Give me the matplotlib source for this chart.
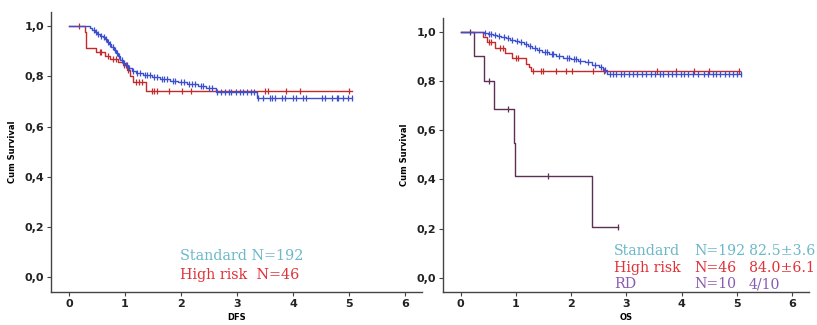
import numpy as np
import matplotlib.pyplot as plt
from matplotlib.ticker import FuncFormatter

# ---- DFS panel data ----
dfs_std_t = [0.38, 0.42, 0.46, 0.50, 0.55, 0.60, 0.64, 0.68, 0.72, 0.76, 0.80, 0.84, 0.88,
             0.92, 0.96, 1.00, 1.05, 1.12, 1.20, 1.32, 1.48, 1.62, 1.80, 1.95, 2.10, 2.30,
             2.45, 2.62, 3.35]
dfs_std_s = [0.993, 0.985, 0.978, 0.970, 0.962, 0.955, 0.948, 0.938, 0.927, 0.916, 0.905,
             0.893, 0.880, 0.866, 0.855, 0.845, 0.833, 0.822, 0.812, 0.805, 0.797, 0.790,
             0.782, 0.776, 0.768, 0.760, 0.752, 0.737, 0.712]
dfs_std_end = 5.05
dfs_std_cens = [0.44, 0.48, 0.52, 0.57, 0.62, 0.66, 0.70, 0.74, 0.78, 0.82, 0.86, 0.90,
                0.94, 0.98, 1.03, 1.08, 1.15, 1.22, 1.26, 1.35, 1.40, 1.44, 1.52, 1.58,
                1.66, 1.70, 1.75, 1.85, 1.90, 2.00, 2.05, 2.15, 2.20, 2.25, 2.35, 2.40,
                2.50, 2.55, 2.65, 2.72, 2.78, 2.85, 2.90, 2.98, 3.05, 3.10, 3.18, 3.25,
                3.30, 3.38, 3.47, 3.59, 3.62, 3.68, 3.80, 3.86, 4.00, 4.06, 4.18, 4.24,
                4.51, 4.57, 4.69, 4.78, 4.81, 4.90, 4.99, 5.05]

dfs_hr_t = [0.29, 0.31, 0.48, 0.65, 0.74, 0.88, 0.96, 1.03, 1.09, 1.15, 1.37]
dfs_hr_s = [0.978, 0.913, 0.895, 0.882, 0.870, 0.858, 0.845, 0.825, 0.800, 0.778, 0.742]
dfs_hr_end = 5.05
dfs_hr_cens = [0.18, 0.55, 0.58, 0.70, 0.78, 0.84, 0.99, 1.02, 1.05, 1.20, 1.25, 1.30,
               1.48, 1.52, 1.58, 1.78, 2.02, 2.18, 3.50, 3.56, 3.88, 4.13, 5.00]

# ---- OS panel data ----
os_std_t = [0.42, 0.50, 0.58, 0.66, 0.74, 0.82, 0.90, 0.98, 1.06, 1.14, 1.22, 1.30, 1.38,
            1.48, 1.60, 1.72, 1.85, 2.00, 2.12, 2.25, 2.38, 2.50, 2.58, 2.65]
os_std_s = [0.996, 0.992, 0.988, 0.984, 0.979, 0.974, 0.968, 0.962, 0.956, 0.950, 0.943,
            0.935, 0.925, 0.916, 0.908, 0.900, 0.894, 0.888, 0.882, 0.875, 0.866, 0.856,
            0.845, 0.826]
os_std_end = 5.07
os_std_cens = [0.45, 0.52, 0.55, 0.62, 0.70, 0.78, 0.86, 0.94, 1.02, 1.10, 1.18, 1.26,
               1.34, 1.42, 1.52, 1.56, 1.65, 1.68, 1.78, 1.92, 1.96, 2.05, 2.08, 2.16,
               2.30, 2.44, 2.54, 2.62, 2.70, 2.76, 2.82, 2.90, 2.96, 3.05, 3.12, 3.20,
               3.28, 3.36, 3.45, 3.52, 3.60, 3.66, 3.75, 3.82, 3.90, 3.98, 4.05, 4.12,
               4.20, 4.30, 4.40, 4.48, 4.56, 4.62, 4.70, 4.78, 4.86, 4.93, 5.00, 5.07]

os_hr_t = [0.40, 0.48, 0.63, 0.81, 0.93, 1.18, 1.23, 1.27]
os_hr_s = [0.978, 0.957, 0.935, 0.913, 0.891, 0.870, 0.855, 0.840]
os_hr_end = 5.05
os_hr_cens = [0.52, 0.56, 0.72, 0.76, 1.00, 1.04, 1.32, 1.45, 1.50, 1.72, 1.90, 2.02,
              2.40, 2.60, 3.55, 3.90, 4.22, 4.50, 5.03]

os_rd_t = [0.24, 0.42, 0.60, 0.97, 0.99, 2.37]
os_rd_s = [0.900, 0.800, 0.686, 0.549, 0.412, 0.206]
os_rd_end = 2.85
os_rd_cens = [0.18, 0.52, 0.85, 1.59, 2.85]

C_STD = '#3b4fcf'
C_HR = '#c42a2a'
C_RD = '#5e2f55'
T_STD = '#6ab8c9'
T_HR = '#e03038'
T_RD = '#8a5bb2'


def km(ax, t, s, end, cens, color, mcolor):
    x = [0] + list(t) + [end]
    y = [1.0] + list(s) + [s[-1]]
    ax.step(x, y, where='post', color=color, lw=1.0)
    idx = np.searchsorted(t, cens, side='right')
    ys = np.concatenate([[1.0], s])[idx]
    ax.plot(cens, ys, ls='none', marker='|', ms=5, mew=0.9, color=mcolor)


def style(ax, xlabel):
    ax.set_xlim(-0.32, 6.3)
    ax.set_ylim(-0.058, 1.056)
    ax.set_xticks(range(7))
    ax.set_yticks([0, 0.2, 0.4, 0.6, 0.8, 1.0])
    ax.yaxis.set_major_formatter(FuncFormatter(lambda v, p: f'{v:.1f}'.replace('.', ',')))
    for sp in ['top', 'right']:
        ax.spines[sp].set_visible(False)
    for sp in ['left', 'bottom']:
        ax.spines[sp].set_color('#444444')
        ax.spines[sp].set_linewidth(1.0)
    ax.tick_params(length=3, width=0.8, color='#444444', labelsize=8, labelcolor='#222222', pad=2)
    for lb in ax.get_xticklabels() + ax.get_yticklabels():
        lb.set_fontweight('bold')
    ax.set_ylabel('Cum Survival', fontsize=6, fontweight='bold', labelpad=5)
    ax.set_xlabel(xlabel, fontsize=6, fontweight='bold', labelpad=3)


fig = plt.figure(figsize=(8.17, 3.25), dpi=100, facecolor='white')
ax1 = fig.add_axes([0.0624, 0.1015, 0.454, 0.8615])
ax2 = fig.add_axes([0.542, 0.1015, 0.448, 0.8435])

# --- Left: DFS ---
km(ax1, dfs_hr_t, dfs_hr_s, dfs_hr_end, dfs_hr_cens, C_HR, C_HR)
km(ax1, dfs_std_t, dfs_std_s, dfs_std_end, dfs_std_cens, C_STD, C_STD)
style(ax1, 'DFS')
serif = 'DejaVu Serif'
ax1.text(1.98, 0.085, 'Standard N=192', color=T_STD, fontsize=10.4, family=serif, va='center')
ax1.text(1.98, 0.008, 'High risk  N=46', color=T_HR, fontsize=10.4, family=serif, va='center')

# --- Right: OS ---
km(ax2, os_rd_t, os_rd_s, os_rd_end, os_rd_cens, C_RD, C_RD)
km(ax2, os_hr_t, os_hr_s, os_hr_end, os_hr_cens, C_HR, C_HR)
km(ax2, os_std_t, os_std_s, os_std_end, os_std_cens, C_STD, C_STD)
style(ax2, 'OS')
rows = [('Standard', 'N=192', '82.5\u00b13.6', T_STD),
        ('High risk', 'N=46', '84.0\u00b16.1', T_HR),
        ('RD', 'N=10', '4/10', T_RD)]
for i, (a, b, c, col) in enumerate(rows):
    yy = 0.109 - i * 0.068
    ax2.text(2.78, yy, a, color=col, fontsize=10.2, family=serif, va='center', clip_on=False)
    ax2.text(4.22, yy, b, color=col, fontsize=10.2, family=serif, va='center', clip_on=False)
    ax2.text(5.22, yy, c, color=col, fontsize=10.2, family=serif, va='center', clip_on=False)

plt.savefig('out.png', dpi=100, facecolor='white')
